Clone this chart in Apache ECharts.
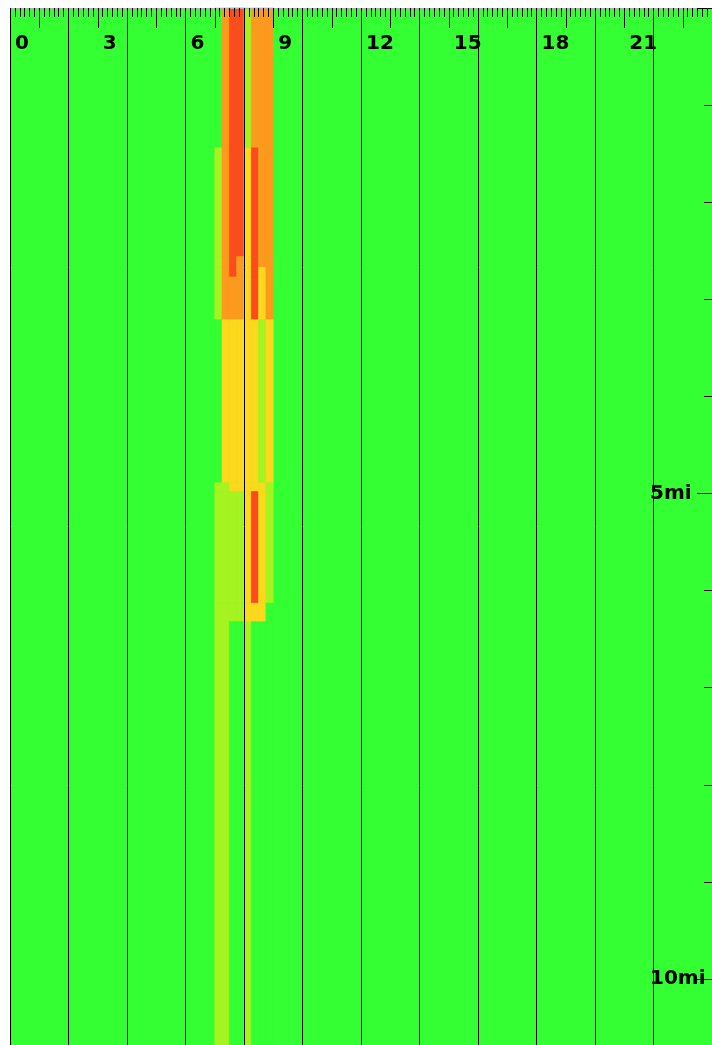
<!DOCTYPE html>
<html>
<head>
<meta charset="utf-8">
<title>congestion</title>
<script src="https://cdn.jsdelivr.net/npm/echarts@6.0.0/dist/echarts.min.js"></script>
<style>
    html, body { margin: 0; padding: 0; background: #fff; }
    #chart { width: 712px; height: 1045px; }
</style>
</head>
<body>
<div id="chart"></div>
<script>
// hour at which each 15 minute column starts
var binStarts = [7, 7.25, 7.5, 7.75, 8, 8.25, 8.5, 8.75];
var binWidth = 0.25;
// road segment edges, miles from the top
var segmentEdges = [0, 1.44, 2.56, 2.67, 2.77, 3.21, 4.89, 4.98, 6.13, 6.32, 10.68];
// level per segment, 0 free flow .. 4 stopped
var col0700 = [0, 1, 1, 1, 1, 0, 1, 1, 1, 1];
var col0715 = [3, 3, 3, 3, 3, 2, 1, 1, 1, 1];
var col0730 = [4, 4, 4, 4, 3, 2, 2, 1, 1, 0];
var col0745 = [4, 4, 3, 3, 3, 2, 2, 1, 1, 0];
var col0800 = [1, 2, 2, 2, 2, 2, 2, 2, 2, 1];
var col0815 = [3, 4, 4, 4, 4, 2, 2, 4, 2, 0];
var col0830 = [3, 3, 3, 2, 2, 1, 2, 2, 2, 0];
var col0845 = [3, 3, 3, 3, 3, 2, 1, 1, 0, 0];
var columns = [col0700, col0715, col0730, col0745, col0800, col0815, col0830, col0845];

var levelColors = ['#33ff33', '#a6f322', '#fdd81c', '#fd9a1e', '#fc4c1e'];
var hourMax = 24, mileMax = 10.68;

var cells = [];
for (var i = 0; i < binStarts.length; ++i) {
    for (var j = 0; j < segmentEdges.length - 1; ++j) {
        cells.push([binStarts[i], segmentEdges[j], segmentEdges[j + 1], columns[i][j]]);
    }
}

var off = function () {
    return {show: false};
};
var label = function (extra) {
    var o = {
        show: true,
        inside: true,
        verticalAlign: 'middle',
        color: '#000',
        fontFamily: 'DejaVu Sans',
        fontWeight: 'bold',
        fontSize: 20
    };
    for (var k in extra) {
        o[k] = extra[k];
    }
    return o;
};
var black = function (w) {
    return {color: '#000', width: w};
};

var chart = echarts.init(document.getElementById('chart'), null, {renderer: 'canvas'});
chart.setOption({
    animation: false,
    grid: {
        left: 10, top: 8, right: 0, bottom: 0,
        show: true,
        backgroundColor: levelColors[0],
        borderWidth: 0,
        outerBoundsMode: 'none'
    },
    xAxis: [{
        // two hour grid lines (the one at 0 is the left edge), drawn over the cells
        type: 'value', min: 0, max: hourMax, interval: 2, position: 'bottom', z: 5,
        axisLine: {show: false, onZero: false}, axisTick: off(), axisLabel: off(),
        splitLine: {show: true, lineStyle: black(1)}
    }, {
        // ruler along the top: hour ticks, 10 minute ticks, label every 3 hours
        type: 'value', min: 0, max: hourMax, interval: 1, position: 'top', z: 6,
        axisLine: {show: true, onZero: false, lineStyle: {color: '#b0b0b0', width: 1}},
        axisTick: {show: true, inside: true, length: 20, lineStyle: black(1)},
        minorTick: {show: true, splitNumber: 6, length: 9, lineStyle: black(1)},
        splitLine: off(),
        axisLabel: label({
            margin: 36, align: 'left', padding: [0, 0, 0, 5], showMaxLabel: false,
            formatter: function (v) { return v % 3 === 0 ? String(v) : ''; }
        })
    }],
    yAxis: [{
        // miles down the road, ticks and labels on the right edge
        type: 'value', min: 0, max: mileMax, inverse: true, interval: 5, position: 'right', z: 6,
        axisLine: {show: false, onZero: false}, splitLine: off(),
        axisTick: {show: true, inside: true, length: 15, lineStyle: black(1)},
        minorTick: {show: true, splitNumber: 5, length: 8, lineStyle: black(1)},
        axisLabel: label({
            margin: 62, align: 'left', showMinLabel: false, showMaxLabel: false,
            formatter: function (v) { return v + 'mi'; }
        })
    }],
    series: [{
        type: 'custom',
        xAxisIndex: 0,
        yAxisIndex: 0,
        z: 2,
        data: cells,
        renderItem: function (params, api) {
            var p0 = api.coord([api.value(0), api.value(1)]);
            var p1 = api.coord([api.value(0) + binWidth, api.value(2)]);
            var fill = levelColors[api.value(3)];
            return {
                type: 'rect',
                shape: {x: p0[0], y: p0[1], width: p1[0] - p0[0], height: p1[1] - p0[1]},
                style: {fill: fill, stroke: fill, lineWidth: 0.6}
            };
        }
    }]
});
</script>
</body>
</html>
